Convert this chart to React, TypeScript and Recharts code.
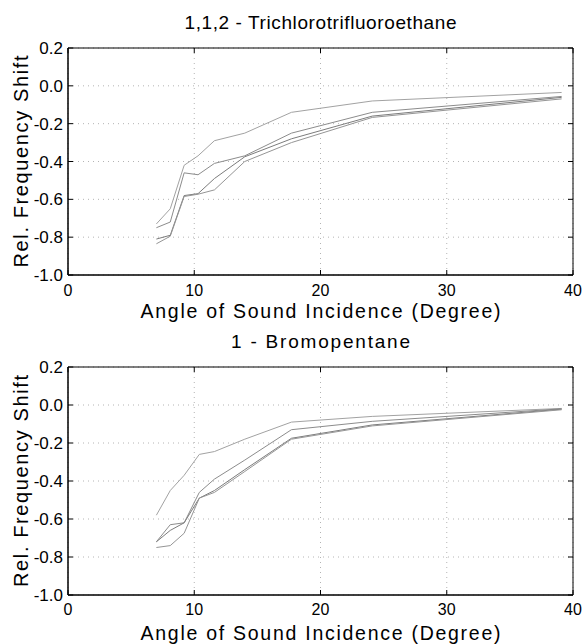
import { LineChart, Line, XAxis, YAxis, CartesianGrid, ReferenceArea } from "recharts";

const xTicks = [0, 10, 20, 30, 40];
const yTicks = [-1, -0.8, -0.6, -0.4, -0.2, 0, 0.2];

// 1,1,2 - Trichlorotrifluoroethane
const tcfAngles = [7, 8.1, 9.2, 10.3, 11.6, 14, 17.7, 24.1, 39.1];
const tcfRun1 = [-0.73, -0.65, -0.42, -0.37, -0.29, -0.25, -0.14, -0.08, -0.035];
const tcfRun2 = [-0.75, -0.72, -0.46, -0.47, -0.41, -0.37, -0.25, -0.14, -0.056];
const tcfRun3 = [-0.81, -0.79, -0.58, -0.57, -0.49, -0.375, -0.28, -0.16, -0.061];
const tcfRun4 = [-0.835, -0.795, -0.585, -0.573, -0.55, -0.4, -0.3, -0.167, -0.069];

// 1 - Bromopentane
const bpAngles = [7, 8.1, 9.2, 10.4, 11.6, 14, 17.7, 24.1, 39.1];
const bpRun1 = [-0.58, -0.45, -0.37, -0.26, -0.245, -0.18, -0.09, -0.06, -0.018];
const bpRun2 = [-0.72, -0.63, -0.62, -0.46, -0.39, -0.29, -0.13, -0.086, -0.02];
const bpRun3 = [-0.72, -0.66, -0.62, -0.49, -0.45, -0.34, -0.175, -0.105, -0.022];
const bpRun4 = [-0.75, -0.74, -0.675, -0.49, -0.46, -0.35, -0.18, -0.11, -0.025];

const runColors = ["#a2a2a2", "#8c8c8c", "#7c7c7c", "#959595"];
const FONT = "'Liberation Sans', Arial, Helvetica, sans-serif";

const toRows = (angles: number[], runs: number[][]) =>
  angles.map((x, i) => ({ x, r1: runs[0][i], r2: runs[1][i], r3: runs[2][i], r4: runs[3][i] }));

type Box = { left: number; right: number; top: number; bottom: number };

type PanelProps = {
  title: string;
  titleWidth: number;
  titleY: number;
  rows: ReturnType<typeof toRows>;
  marginTop: number;
  marginBottom: number;
  xTickGap: number;
};

const W = 586;
const H = 322;

const Panel = ({ title, titleWidth, titleY, rows, marginTop, marginBottom, xTickGap }: PanelProps) => {
  const box: Box = { left: 68, right: 573, top: marginTop, bottom: H - marginBottom - 45 };
  const midY = (box.top + box.bottom) / 2;
  const midX = (box.left + box.right) / 2;

  return (
    <LineChart
      width={W}
      height={H}
      data={rows}
      margin={{ top: marginTop, right: W - box.right, bottom: marginBottom, left: 0 }}
    >
      <CartesianGrid stroke="#b4b4b4" strokeDasharray="1 4" />
      <XAxis
        dataKey="x"
        type="number"
        domain={[0, 40]}
        ticks={xTicks}
        height={45}
        tickSize={0}
        tickMargin={xTickGap}
        axisLine={{ stroke: "#000" }}
        tickLine={false}
        tick={(p: any) => (
          <g>
            <line x1={p.x} x2={p.x} y1={box.bottom} y2={box.bottom - 5} stroke="#000" />
            <line x1={p.x} x2={p.x} y1={box.top} y2={box.top + 5} stroke="#000" />
            <text x={p.x} y={p.y} dy="0.72em" textAnchor="middle" fontSize={16} fontFamily={FONT} fill="#000">
              {p.payload.value}
            </text>
          </g>
        )}
      />
      <YAxis
        type="number"
        domain={[-1, 0.2]}
        ticks={yTicks}
        width={68}
        tickSize={0}
        tickMargin={5}
        axisLine={{ stroke: "#000" }}
        tickLine={false}
        tick={(p: any) => (
          <g>
            <line x1={box.left} x2={box.left + 5} y1={p.y} y2={p.y} stroke="#000" />
            <line x1={box.right - 5} x2={box.right} y1={p.y} y2={p.y} stroke="#000" />
            <text x={p.x} y={p.y} dy="0.36em" textAnchor="end" fontSize={17} fontFamily={FONT} fill="#000">
              {Number(p.payload.value).toFixed(1)}
            </text>
          </g>
        )}
      />
      <ReferenceArea x1={0} x2={40} y1={-1} y2={0.2} fill="none" fillOpacity={0} stroke="#000" strokeWidth={1} />
      {["r1", "r2", "r3", "r4"].map((k, i) => (
        <Line
          key={k}
          dataKey={k}
          type="linear"
          stroke={runColors[i]}
          strokeWidth={1}
          dot={false}
          isAnimationActive={false}
        />
      ))}
      <text
        x={midX}
        y={titleY}
        textAnchor="middle"
        fontSize={19}
        fontFamily={FONT}
        fill="#000"
        textLength={titleWidth}
        lengthAdjust="spacing"
      >
        {title}
      </text>
      <text
        x={midX}
        y={317.5}
        textAnchor="middle"
        fontSize={19.5}
        fontFamily={FONT}
        fill="#000"
        textLength={360}
        lengthAdjust="spacing"
      >
        Angle of Sound Incidence (Degree)
      </text>
      <text
        transform={`translate(28.3, ${midY}) rotate(-90)`}
        x={0}
        y={0}
        textAnchor="middle"
        fontSize={20}
        fontFamily={FONT}
        fill="#000"
        textLength={212}
        lengthAdjust="spacing"
      >
        Rel. Frequency Shift
      </text>
    </LineChart>
  );
};

export default function App() {
  return (
    <div style={{ position: "absolute", left: 0, top: 0, width: W, height: 644, background: "#fff" }}>
      <div style={{ position: "absolute", left: 0, top: 0 }}>
        <Panel
          title="1,1,2 - Trichlorotrifluoroethane"
          titleWidth={272}
          titleY={29.3}
          rows={toRows(tcfAngles, [tcfRun1, tcfRun2, tcfRun3, tcfRun4])}
          marginTop={48}
          marginBottom={2}
          xTickGap={9.5}
        />
      </div>
      <div style={{ position: "absolute", left: 0, top: H }}>
        <Panel
          title="1 - Bromopentane"
          titleWidth={179}
          titleY={25.7}
          rows={toRows(bpAngles, [bpRun1, bpRun2, bpRun3, bpRun4])}
          marginTop={45}
          marginBottom={4}
          xTickGap={8}
        />
      </div>
    </div>
  );
}
